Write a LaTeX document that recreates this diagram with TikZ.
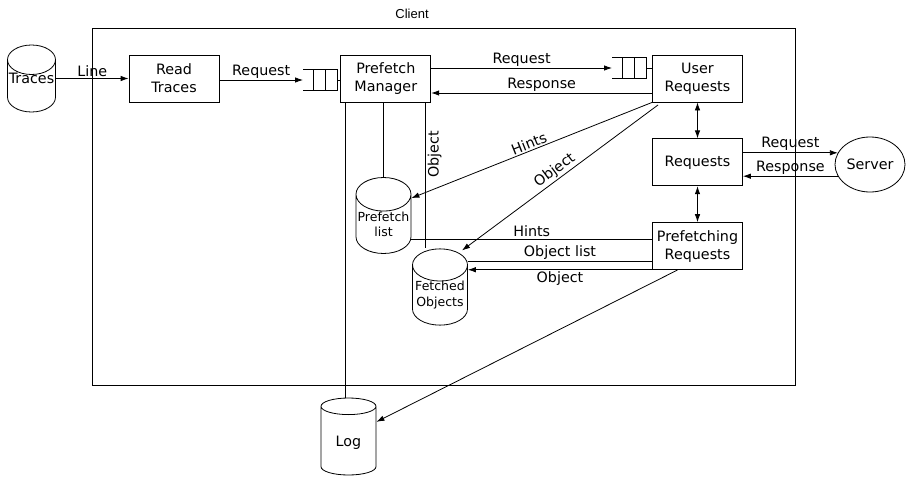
\documentclass[tikz,border=0pt]{standalone}
\usepackage{fontspec}
\setmainfont{DejaVu Sans}
\newfontfamily\clientfont{Liberation Sans}
\usepackage{tikz}
\usetikzlibrary{
  arrows.meta,
  positioning,
  shapes.geometric,
  calc
}
\newcommand{\boxfont}{\fontsize{14.3}{18}\selectfont}
\newcommand{\smallfont}{\fontsize{12.5}{15.5}\selectfont}
\tikzset{
  procbox/.style={draw, minimum width=90pt, minimum height=47pt,
    inner sep=1pt, align=center, font=\boxfont},
  store/.style={draw, cylinder, shape border rotate=90, aspect=0.65,
    minimum width=55pt, minimum height=76pt, inner sep=0pt,
    anchor=shape center, align=center, font=\smallfont},
  lbl/.style={font=\boxfont, inner sep=1.5pt},
  arr/.style={-{Latex[length=8pt,width=5.5pt]}},
  darr/.style={{Latex[length=8pt,width=5.5pt]}-{Latex[length=8pt,width=5.5pt]}},
}
% small buffer in front of a box: #1 entry point, #2 the box
\newcommand{\qbuf}[2]{%
  \draw ($(#1)+(0,-10.5)$) -- ++(34,0) -- ++(0,21) -- ++(-34,0);
  \foreach \dx in {10,22}{\draw ($(#1)+(\dx,-10.5)$) -- ++(0,21);}
  \draw ($(#1)+(34,0)$) -- (#1 -| #2.west);
}

\begin{document}
\begin{tikzpicture}[x=1pt, y=-1pt, line width=0.8pt, node distance=36pt]
  \useasboundingbox (0,0) rectangle (908,479);

  % client frame
  \node[draw, minimum width=703pt, minimum height=357pt, inner sep=0pt] (client) at (443.5,206.5) {};
  \node[font=\clientfont\fontsize{13}{15}\selectfont] (clientlbl) at (412,14) {Client};

  % processes
  \node[procbox] (RT) at (174,78.5) {Read\\Traces};
  \node[procbox, right=121pt of RT] (PM) {Prefetch\\Manager};
  \node[procbox] (UR) at (697.5,78.5) {User\\Requests};
  \node[procbox, below=of UR] (Req) {Requests};
  \node[procbox, below=of Req] (PR) {Prefetching\\Requests};
  \node[draw, ellipse, minimum width=70pt, minimum height=55pt,
    inner sep=0pt, font=\boxfont] (srv) at (870,164.5) {Server};

  % stores
  \node[store, minimum width=48pt, minimum height=67pt, font=\boxfont] (tr) at (31.5,78.5)
    {\raisebox{2.3pt}[0pt][0pt]{Traces}};
  \node[store] (PL) at (383.5,215.5) {Prefetch\\list};
  \node[store] (FO) at (440,287) {Fetched\\Objects};
  \node[store, minimum height=77pt, font=\boxfont] (log) at (348.5,436.5)
    {\raisebox{-6pt}[0pt][0pt]{Log}};

  % buffers
  \coordinate (q1) at (303,80);
  \coordinate (q2) at (612,68);
  \qbuf{q1}{PM}
  \qbuf{q2}{UR}

  % top row
  \draw[arr] (tr.east |- RT.west) -- (RT.west) node[lbl, midway, above] {Line};
  \draw[arr] (RT.east |- q1) -- (q1) node[lbl, midway, above] {Request};
  \draw[arr] (PM.east |- q2) -- (q2) node[lbl, midway, above] {Request};
  \draw[arr] ([yshift=-14.5pt]UR.west) -- ([yshift=-14.5pt]PM.east)
    node[lbl, midway, above] {Response};

  % request chain
  \draw[darr] (UR.south) -- (Req.north);
  \draw[darr] (Req.south) -- (PR.north);
  \draw[arr] (Req.east |- srv.160) -- (srv.160) node[lbl, midway, above] {Request};
  \draw[arr] (srv.200) -- (Req.east |- srv.200) node[lbl, midway, above] {Response};

  % user requests to stores
  \draw[arr] (UR.south west) -- ([yshift=26pt]PL.east)
    node[lbl, midway, above, sloped] {Hints};
  \draw[arr] ([xshift=6pt,yshift=-2.5pt]UR.south west) -- ([xshift=22pt,yshift=-2pt]FO.top)
    node[lbl, midway, above, sloped] {Object};

  % prefetching requests to stores
  \draw ([yshift=-15pt]PL.east) coordinate (h1) -- (h1 -| PR.west)
    node[lbl, midway, above] {Hints};
  \draw ([yshift=33.5pt]FO.east) coordinate (ol) -- (ol -| PR.west)
    node[lbl, midway, above] {Object list};
  \path ([yshift=25.5pt]FO.east) coordinate (ob);
  \draw[arr] (ob -| PR.west) -- (ob) node[lbl, midway, below] {Object};
  \draw[arr] ([xshift=-20pt]PR.south) -- ([yshift=19pt]log.east);

  % prefetch manager links
  \draw ([xshift=-40pt]PM.south) coordinate (m1) -- (m1 |- log.top);
  \draw (PL.top |- PM.south) -- (PL.top);
  \draw ([xshift=40pt]PM.south) coordinate (m3) -- (m3 |- FO.top)
    node[lbl, pos=0.355, rotate=90, anchor=north] {Object};
\end{tikzpicture}
\end{document}
